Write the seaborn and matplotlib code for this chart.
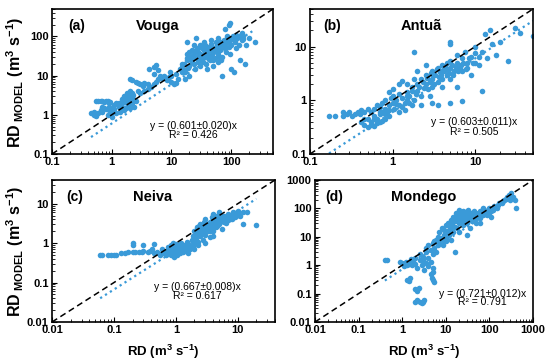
import matplotlib
matplotlib.use("Agg")
import matplotlib.pyplot as plt
import matplotlib.ticker as mticker
import seaborn as sns
import pandas as pd
import numpy as np

# ---------------- data ----------------
vouga_x = [0.45,0.5,0.5,0.55,0.6,0.6,0.65,0.7,0.75,0.8,0.85,0.9,0.95,0.7,0.75,0.8,0.9,1.0,1.05,1.1,0.65,0.85,1.0,1.2,1.2,
           1.3,1.4,1.5,1.5,1.6,1.6,1.7,1.7,1.8,1.8,1.9,1.9,2.0,2.0,2.1,2.2,2.2,2.3,1.4,1.6,2.0,2.4,2.5,
           2.0,2.2,2.5,2.8,3.0,3.3,3.5,4.0,2.7,3.0,3.5,4.0,4.5,5.0,5.5,6.0,7.0,8.0,9.0,4.2,5.0,5.5,6.0,5.0,6.5,7.5,8.5,10,10,11,12,13,9.5,12,
           14,15,16,17,18,18,20,20,22,22,25,25,25,28,28,30,30,30,32,35,35,35,38,40,40,40,45,45,45,50,50,50,55,55,60,60,60,65,70,70,70,75,80,80,85,90,95,90,95,100,100,100,110,110,120,120,130,140,150,150,160,170,180,200,250,24,26,18,15,20,17,
           15,16,18,19,20,21,23,24,26,27,29,31,33,34,36,37,39,42,44,47,48,52,53,57,58,62,63,67,68,72,78,82,88,92,105,115,125,135,145,155,
           0.55,0.7,0.9,1.1,1.3,1.5,1.7,1.9,2.1,2.3]
vouga_y = [1.1,1.0,1.2,0.95,1.1,2.2,2.3,2.2,2.1,2.3,2.2,2.0,2.1,1.6,1.5,1.4,1.3,1.2,1.5,1.8,1.3,1.0,0.9,1.1,2.0,
           1.6,1.8,2.0,2.6,2.2,3.0,1.5,2.5,2.0,3.5,2.8,1.8,2.3,4.0,3.0,2.0,3.5,2.6,1.2,1.3,1.5,1.6,2.2,
           8.0,7.5,7.0,6.5,6.0,5.5,6.5,6.0,4.0,3.5,4.0,4.5,5.0,6.0,7.0,8.0,8.5,8.0,9.0,15,17,19,14,11,10,9.5,7.5,10,7,6.0,6.5,8.0,12,11,
           15,17,20,12,25,35,30,18,22,45,40,28,15,50,22,60,35,18,25,45,30,70,20,55,35,15,30,65,80,40,25,18,70,50,35,22,90,45,60,30,10,80,150,50,100,200,220,70,35,90,60,15,80,12,110,50,95,25,120,80,100,20,60,90,70,60,90,70,12,10,8,
           20,14,28,16,40,25,33,20,45,30,38,28,50,22,40,60,30,45,25,55,35,45,28,60,40,50,30,70,25,55,65,40,80,55,100,70,90,60,110,85,
           2.2,1.2,1.6,1.4,2.0,1.6,2.8,2.4,1.9,3.2]

antua_x = [0.17,0.2,0.25,0.25,0.28,0.3,0.32,0.35,0.38,0.4,0.42,0.45,0.5,
           0.42,0.45,0.5,0.55,0.6,0.65,0.7,0.75,0.8,0.9,0.5,0.6,0.7,
           0.55,0.6,0.65,0.7,0.75,0.8,0.8,0.85,0.9,0.95,1.0,1.0,1.05,1.1,1.2,1.2,1.3,1.4,1.5,1.5,1.6,1.7,1.8,1.2,1.4,0.9,1.0,
           1.2,1.3,1.5,1.7,1.8,2.0,2.0,2.2,2.2,2.5,2.5,2.7,3.0,3.0,3.0,3.3,3.5,3.5,3.8,4.0,4.0,4.2,4.5,4.5,5.0,5.0,5.0,5.5,2.0,2.5,1.8,2.2,3.0,3.5,5.0,7.0,2.8,4.0,6.0,
           5.0,5.0,6.0,6.0,6.5,7.0,7.0,7.5,8.0,8.0,9.0,9.0,10,10,10,11,12,12,13,14,15,16,18,20,25,30,35,50,
           0.6,0.7,0.8,0.9,1.1,1.3,1.5,1.6,1.7,1.9,2.1,2.3,2.4,2.6,2.8,2.9,3.1,3.2,3.4,3.6,3.7,3.9,4.1,4.3,4.6,4.8,5.2,5.4,5.8,6.2,6.8,7.2,7.8,8.5,9.5,11,0.45,0.55,0.65,0.75]
antua_y = [0.5,0.5,0.6,0.5,0.55,0.6,0.5,0.55,0.6,0.55,0.65,0.6,0.7,
           0.4,0.35,0.32,0.35,0.33,0.38,0.4,0.42,0.45,0.5,0.45,0.5,0.55,
           0.6,0.7,0.8,0.75,0.9,1.0,0.7,0.6,0.8,1.1,0.9,1.2,0.7,1.0,0.8,1.3,1.1,0.9,1.0,1.4,1.2,0.8,1.0,0.6,0.65,1.4,1.6,
           2.0,2.3,2.0,1.8,2.5,2.0,1.5,2.5,1.2,3.0,2.0,1.6,2.5,3.5,1.8,3.0,2.2,4.0,3.2,2.5,4.5,3.5,3.0,5.0,4.0,2.5,5.5,3.5,3.5,4.5,8.0,0.8,0.9,0.8,0.9,0.95,1.2,1.8,1.8,
           12,11,5.0,7.0,4.0,6.0,3.5,8.0,5.0,4.0,6.5,3.0,10,5,7.5,4.5,1.5,8,17,6,20,11,7,12,5.5,22,18,16,
           0.45,0.6,0.55,0.65,0.85,0.75,1.2,0.9,1.5,1.3,1.8,2.2,1.7,2.6,2.2,3.2,2.9,2.0,3.8,2.7,3.4,2.9,3.6,4.2,3.8,3.2,4.5,3.0,4.2,3.5,4.6,5.0,3.8,6.0,5.0,6.5,0.45,0.4,0.45,0.6]

neiva_x = [0.06,0.065,0.08,0.09,0.1,0.11,0.13,0.15,0.17,0.2,0.22,0.25,0.28,0.3,0.35,0.38,0.2,0.2,0.3,0.45,0.42,0.45,0.5,
           0.55,0.6,0.6,0.65,0.7,0.7,0.75,0.75,0.8,0.8,0.85,0.85,0.9,0.9,0.95,1.0,1.0,1.0,1.05,1.1,1.1,1.15,1.2,1.2,1.3,1.3,1.4,1.4,1.5,1.5,1.6,1.6,1.7,1.8,1.9,0.9,1.2,1.5,1.6,
           1.8,1.9,2.0,2.0,2.1,2.2,2.2,2.3,2.4,2.5,2.5,2.6,2.7,2.8,2.8,3.0,3.0,3.0,3.2,3.3,3.5,3.5,3.5,3.8,4.0,4.0,4.0,4.3,4.5,4.5,5.0,5.0,5.0,5.5,5.5,6.0,6.0,6.5,7.0,7.0,7.5,8.0,8.5,9.0,10,10,11,12,12,14,20,2.3,2.0,1.9,3.0,4.0,
           2.2,2.4,2.6,2.8,3.0,3.2,3.4,3.6,3.8,4.0,4.2,4.4,4.6,4.8,5.2,5.4,5.6,5.8,6.2,6.4,6.8,7.2,7.8,8.2,9.0,9.5,2.5,2.9,3.3,3.7,4.1,4.7,5.3,0.8,1.0,1.2,1.4,1.1,0.95,1.25]
neiva_y = [0.5,0.5,0.5,0.5,0.5,0.5,0.55,0.55,0.6,0.6,0.6,0.58,0.6,0.62,0.6,0.65,0.9,1.0,0.9,0.95,0.7,0.55,0.6,
           0.5,0.55,0.7,0.6,0.5,0.65,0.8,0.55,0.6,0.7,0.5,0.9,0.6,0.75,0.45,0.6,0.8,0.95,0.5,0.7,0.9,0.55,0.65,0.85,0.6,0.75,0.7,0.9,0.65,0.8,0.75,0.95,0.7,0.85,0.8,1.0,1.0,1.1,0.55,
           1.2,1.5,1.0,2.0,1.3,2.5,1.7,1.1,2.0,3.0,1.5,2.4,1.2,2.0,3.5,2.5,1.6,4.0,3.0,2.0,3.5,2.5,1.4,4.5,3.0,2.0,5.5,3.8,2.6,5.0,4.0,3.0,6.0,4.5,2.3,5.0,3.5,4.5,5.5,3.8,4.0,5.0,6.0,4.5,5.5,6.5,5.0,6.0,3.0,6.0,2.9,0.9,0.7,1.1,1.0,1.5,
           2.0,2.8,1.8,2.6,3.2,2.2,3.0,2.0,3.6,2.6,4.2,3.2,3.6,4.4,3.4,5.0,3.8,4.6,4.2,3.2,4.8,4.4,5.2,4.0,5.8,5.0,2.2,3.0,2.5,3.0,3.4,2.8,4.8,0.65,0.7,0.75,0.8,0.6,0.7,0.7]

mondego_x = [0.4,0.45,0.9,1.0,1.1,1.2,1.3,1.4,1.5,1.6,1.7,1.8,2.0,2.0,2.2,2.5,2.5,2.8,3.0,3.0,3.2,3.5,3.5,4.0,4.0,4.5,5.0,5.0,5.0,4.5,
             1.3,1.5,1.4,2.0,2.2,2.4,2.0,2.2,2.5,2.8,3.0,3.2,5.0,5.3,4.8,
             3.5,4.0,4.5,5.0,5.5,6.0,6.0,6.5,7.0,7.0,8.0,8.0,8.5,9.0,10,10,10,11,12,12,13,14,15,15,16,17,18,18,20,20,20,22,25,25,25,28,30,30,32,35,35,40,40,45,50,50,55,60,60,70,70,80,90,100,100,110,120,130,150,170,200,220,250,280,300,320,350,380,400,13,20,30,60,16,
             9,11,12,13,14,15,16,17,18,19,21,22,23,24,26,27,29,31,33,36,38,42,45,48,52,58,65,75,85,95,110,130,160,190,240,270,5.5,6.5,7.5,8.5]
mondego_y = [1.5,1.5,1.3,1.2,0.9,1.3,1.0,1.1,1.2,1.6,1.0,1.3,1.1,1.8,0.8,1.5,2.5,1.0,1.5,2.0,0.7,1.2,3.0,0.9,1.8,1.3,0.8,2.5,0.6,0.5,
             0.3,0.35,0.28,0.15,0.12,0.16,0.05,0.06,0.05,0.045,0.05,0.06,0.3,0.25,0.35,
             4.0,5.0,3.5,6.0,4.0,8.0,3.0,10,6.0,15,9.0,20,5.0,12,10,25,7,30,18,12,40,25,50,15,35,70,20,45,60,30,90,40,80,25,50,60,30,45,90,50,20,60,35,80,50,30,65,45,80,60,100,70,60,100,70,50,90,120,100,150,180,200,250,300,200,350,250,200,100,8,15,12,30,3,
             18,15,25,20,30,40,22,50,35,55,45,70,35,60,40,75,50,40,65,45,70,55,40,70,60,50,75,70,80,90,80,110,130,160,220,250,7,5,9,8]

names = ["Vouga", "Antuã", "Neiva", "Mondego"]
letters = ["(a)", "(b)", "(c)", "(d)"]
slopes = [0.601, 0.603, 0.667, 0.721]
slope_err = [0.020, 0.011, 0.008, 0.012]
r2 = [0.426, 0.505, 0.617, 0.791]
limits = [(0.1, 500), (0.1, 50), (0.01, 40), (0.01, 1000)]
ticks = [[0.1, 1, 10, 100], [0.1, 1, 10], [0.01, 0.1, 1, 10], [0.01, 0.1, 1, 10, 100, 1000]]
fit_range = [(0.45, 250), (0.17, 50), (0.06, 20), (0.4, 400)]

xs = [vouga_x, antua_x, neiva_x, mondego_x]
ys = [vouga_y, antua_y, neiva_y, mondego_y]

# ---------------- style ----------------
sns.set_theme(style="ticks")
plt.rcParams["font.family"] = ["Liberation Sans", "DejaVu Sans"]
plt.rcParams["mathtext.fontset"] = "custom"
plt.rcParams["mathtext.rm"] = "Liberation Sans"
plt.rcParams["mathtext.bf"] = "Liberation Sans:bold"
plt.rcParams["mathtext.it"] = "Liberation Sans:italic"
for key in ["text.color", "axes.labelcolor", "xtick.color", "ytick.color", "axes.edgecolor"]:
    plt.rcParams[key] = "black"

BLUE = "#3a9ad8"
W, H = 550, 361
fig = plt.figure(figsize=(W / 100, H / 100), dpi=100)

boxes = [(52, 9, 273, 154), (310, 9, 533, 154), (52, 180, 275, 322), (315, 180, 533, 322)]
eq_pos = [(0.64, 0.19, 0.13), (0.735, 0.22, 0.15), (0.65, 0.245, 0.18), (0.77, 0.20, 0.14)]
lab_pos = [(0.11, 0.48), (0.10, 0.50), (0.10, 0.45), (0.09, 0.50)]

for i in range(4):
    l, t, r, b = boxes[i]
    ax = fig.add_axes([l / W, (H - b) / H, (r - l) / W, (b - t) / H])
    df = pd.DataFrame({"x": xs[i], "y": ys[i]})
    lo, hi = limits[i]
    ax.set_xscale("log")
    ax.set_yscale("log")
    ax.plot([lo, hi], [lo, hi], color="black", ls=(0, (4, 2.5)), lw=1.1, zorder=3)
    fx = np.array(fit_range[i])
    ax.plot(fx, slopes[i] * fx, color=BLUE, ls=(0, (1, 1.6)), lw=1.6, zorder=1)
    sns.scatterplot(data=df, x="x", y="y", ax=ax, color=BLUE, s=16, linewidth=0, zorder=2)
    ax.set_xlim(lo, hi)
    ax.set_ylim(lo, hi)
    ax.set_xticks(ticks[i])
    ax.set_yticks(ticks[i])
    fmt = mticker.FuncFormatter(lambda v, p: f"{v:g}")
    ax.xaxis.set_major_formatter(fmt)
    ax.yaxis.set_major_formatter(fmt)
    ax.xaxis.set_minor_formatter(mticker.NullFormatter())
    ax.yaxis.set_minor_formatter(mticker.NullFormatter())
    ax.tick_params(which="both", direction="in", labelsize=8, colors="black")
    ax.tick_params(which="major", length=3.5, width=0.8, pad=2.5)
    ax.tick_params(which="minor", length=2, width=0.6)
    for lab in ax.get_xticklabels() + ax.get_yticklabels():
        lab.set_fontweight("bold")
    for sp in ax.spines.values():
        sp.set_linewidth(1.2)
        sp.set_color("black")
    ax.set_xlabel("")
    ax.set_ylabel("")
    ex, ey1, ey2 = eq_pos[i]
    ax.text(ex, ey1, f"y = ({slopes[i]:.3f}±{slope_err[i]:.3f})x", transform=ax.transAxes,
            ha="center", va="center", fontsize=7.5)
    ax.text(ex, ey2, f"R² = {r2[i]:.3f}", transform=ax.transAxes,
            ha="center", va="center", fontsize=7.5)
    lx, nx = lab_pos[i]
    ax.text(lx, 0.88, letters[i], transform=ax.transAxes, ha="center", va="center",
            fontsize=10, fontweight="bold")
    ax.text(nx, 0.88, names[i], transform=ax.transAxes, ha="center", va="center",
            fontsize=10.5, fontweight="bold")

ylab = r"$\mathbf{RD}_{\mathbf{\ MODEL}}\ \mathbf{(m^3\ s^{-1})}$"
fig.text(15 / W, (H - 82) / H, ylab, rotation=90, ha="center", va="center", fontsize=11.5)
fig.text(15 / W, (H - 251) / H, ylab, rotation=90, ha="center", va="center", fontsize=11.5)
xlab = r"$\mathbf{RD\ (m^3\ s^{-1})}$"
fig.text(163 / W, (H - 352) / H, xlab, ha="center", va="center", fontsize=9.5)
fig.text(424 / W, (H - 352) / H, xlab, ha="center", va="center", fontsize=9.5)

fig.savefig("out.png", dpi=100)
